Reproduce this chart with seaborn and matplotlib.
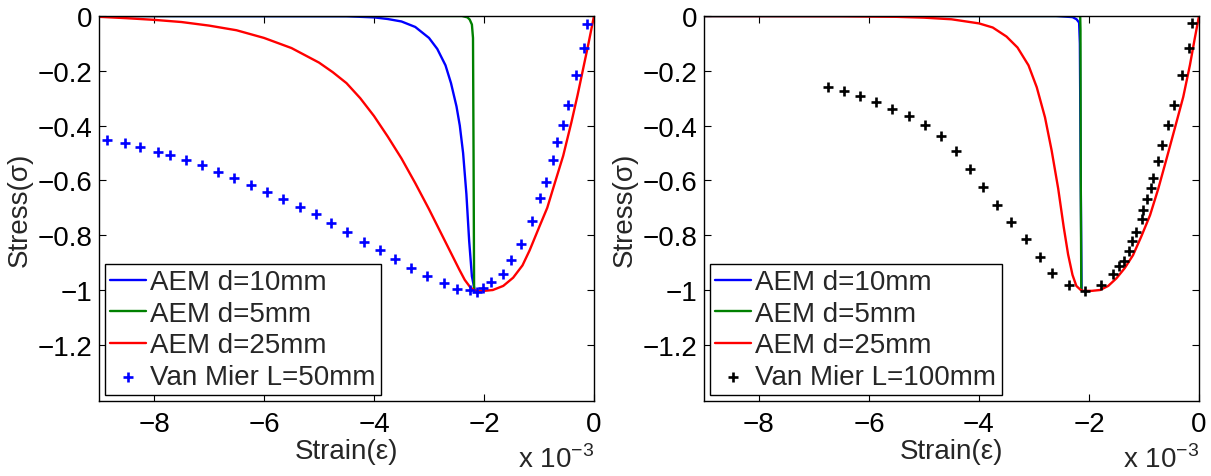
import numpy as np
import pandas as pd
import matplotlib
matplotlib.use("Agg")
import matplotlib.pyplot as plt
import seaborn as sns

# ---------------- data (strain in units of 1e-3) ----------------
# Left panel
L_red_x = [-9.0, -8.5, -8.0, -7.5, -7.0, -6.5, -6.0, -5.5, -5.0, -4.75, -4.5, -4.25, -4.0,
           -3.75, -3.5, -3.25, -3.0, -2.75, -2.6, -2.45, -2.35, -2.25, -2.17,
           -2.0, -1.84, -1.65, -1.47, -1.3, -1.17, -1.0, -0.85, -0.715, -0.56, -0.411,
           -0.3, -0.2, -0.1, 0.0]
L_red_y = [-0.003, -0.008, -0.014, -0.022, -0.035, -0.052, -0.08, -0.117, -0.17, -0.205,
           -0.245, -0.30, -0.365, -0.44, -0.52, -0.61, -0.705, -0.805, -0.865, -0.925,
           -0.963, -0.99, -1.002,
           -1.003, -1.0, -0.985, -0.955, -0.91, -0.855, -0.772, -0.70, -0.611, -0.51,
           -0.388, -0.29, -0.195, -0.10, 0.0]
L_blue_x = [-9.0, -4.5, -4.0, -3.75, -3.5, -3.25, -3.0, -2.85, -2.7, -2.6, -2.5, -2.44,
            -2.38, -2.32, -2.27, -2.22, -2.17]
L_blue_y = [0.0, -0.001, -0.005, -0.011, -0.02, -0.04, -0.08, -0.12, -0.18, -0.245, -0.33,
            -0.40, -0.50, -0.65, -0.82, -0.95, -1.0]
L_green_x = [-9.0, -2.40, -2.30, -2.26, -2.22, -2.20, -2.19, -2.18]
L_green_y = [0.0, 0.0, -0.005, -0.013, -0.031, -0.08, -0.5, -1.0]
L_exp_x = [-8.86, -8.53, -8.25, -7.93, -7.71, -7.42, -7.13, -6.83, -6.55, -6.24, -5.94, -5.65,
           -5.34, -5.05, -4.78, -4.50, -4.19, -3.90, -3.62, -3.32, -3.03, -2.73, -2.49, -2.25,
           -2.13, -2.01, -1.87, -1.65, -1.51, -1.32, -1.13, -0.98, -0.87, -0.75, -0.67, -0.57,
           -0.47, -0.32, -0.19, -0.12]
L_exp_y = [-0.451, -0.464, -0.478, -0.495, -0.508, -0.526, -0.545, -0.568, -0.593, -0.617,
           -0.641, -0.668, -0.697, -0.722, -0.754, -0.788, -0.823, -0.855, -0.886, -0.919,
           -0.950, -0.973, -0.998, -1.001, -1.008, -0.994, -0.972, -0.941, -0.892, -0.833,
           -0.748, -0.665, -0.604, -0.525, -0.461, -0.396, -0.324, -0.216, -0.116, -0.028]

# Right panel
R_red_x = [-9.0, -6.5, -5.5, -5.0, -4.5, -4.0, -3.75, -3.5, -3.3, -3.1, -2.95, -2.8, -2.68,
           -2.56, -2.46, -2.38, -2.3, -2.23, -2.15, -2.11,
           -1.95, -1.80, -1.65, -1.50, -1.35, -1.20, -1.05, -0.89, -0.74, -0.59, -0.44,
           -0.286, -0.164, -0.08, 0.0]
R_red_y = [0.0, -0.001, -0.003, -0.006, -0.012, -0.027, -0.042, -0.075, -0.115, -0.18, -0.26,
           -0.37, -0.49, -0.63, -0.77, -0.87, -0.945, -0.985, -1.0, -1.003,
           -1.003, -1.0, -0.985, -0.957, -0.92, -0.873, -0.805, -0.727, -0.63, -0.521,
           -0.41, -0.295, -0.178, -0.085, 0.0]
R_blue_x = [-9.0, -2.6, -2.3, -2.226, -2.18, -2.166, -2.15, -2.135]
R_blue_y = [0.0, 0.0, -0.004, -0.012, -0.024, -0.1, -0.6, -1.0]
R_green_x = [-9.0, -2.16, -2.155, -2.15, -2.14]
R_green_y = [0.0, 0.0, -0.05, -0.6, -1.0]
R_exp_x = [-6.74, -6.45, -6.16, -5.87, -5.58, -5.28, -4.99, -4.70, -4.42, -4.16, -3.93, -3.68,
           -3.41, -3.14, -2.89, -2.67, -2.37, -2.08, -1.79, -1.56, -1.45, -1.36, -1.28, -1.22,
           -1.15, -1.04, -1.01, -0.94, -0.87, -0.84, -0.74, -0.67, -0.56, -0.46, -0.31, -0.18,
           -0.12]
R_exp_y = [-0.259, -0.274, -0.293, -0.314, -0.338, -0.364, -0.397, -0.437, -0.493, -0.559,
           -0.625, -0.691, -0.753, -0.815, -0.881, -0.938, -0.981, -1.005, -0.983, -0.942,
           -0.914, -0.893, -0.857, -0.821, -0.788, -0.741, -0.707, -0.668, -0.626, -0.590,
           -0.529, -0.469, -0.397, -0.324, -0.215, -0.116, -0.027]

labels_aem = ["AEM d=10mm", "AEM d=5mm", "AEM d=25mm"]
label_exp_left = "Van Mier L=50mm"
label_exp_right = "Van Mier L=100mm"
xticks = [-8, -6, -4, -2, 0]
xticklabels = ["\u22128", "\u22126", "\u22124", "\u22122", "0"]
yticks = [0, -0.2, -0.4, -0.6, -0.8, -1.0, -1.2]
yticklabels = ["0", "\u22120.2", "\u22120.4", "\u22120.6", "\u22120.8", "\u22121", "\u22121.2"]

# ---------------- style ----------------
sns.set_style("white")
plt.rcParams["font.family"] = ["Liberation Sans", "DejaVu Sans"]
plt.rcParams["xtick.direction"] = "in"
plt.rcParams["ytick.direction"] = "in"

FS = 20
BLUE = (0, 0, 1)
GREEN = (0, 0.5, 0)
RED = (1, 0, 0)

fig = plt.figure(figsize=(12.11, 4.77), dpi=100)
W, H = 1211, 477
axL = fig.add_axes([99 / W, 1 - 402 / H, (594 - 99) / W, (402 - 17) / H])
axR = fig.add_axes([704 / W, 1 - 402 / H, (1199 - 704) / W, (402 - 17) / H])


def panel(ax, bx, by, gx, gy, rx, ry, ex, ey, ecolor, elabel):
    sns.lineplot(x=bx, y=by, ax=ax, color=BLUE, lw=1.7, sort=False, estimator=None,
                 label=labels_aem[0])
    sns.lineplot(x=gx, y=gy, ax=ax, color=GREEN, lw=1.7, sort=False, estimator=None,
                 label=labels_aem[1])
    sns.lineplot(x=rx, y=ry, ax=ax, color=RED, lw=1.7, sort=False, estimator=None,
                 label=labels_aem[2])
    sns.scatterplot(x=ex, y=ey, ax=ax, color=ecolor, marker="+", s=45, linewidth=1.9,
                    label=elabel, zorder=5)
    ax.set_xlim(-9, 0)
    ax.set_ylim(-1.405, 0)
    ax.set_xticks(xticks)
    ax.set_xticklabels(xticklabels, fontsize=FS)
    ax.set_yticks(yticks)
    ax.set_yticklabels(yticklabels, fontsize=FS)
    ax.tick_params(axis="both", which="both", direction="in", length=5, width=0.8,
                   top=True, right=True, bottom=True, left=True, colors="black")
    ax.tick_params(axis="x", pad=7)
    ax.tick_params(axis="y", pad=5)
    for s in ax.spines.values():
        s.set_color("black")
        s.set_linewidth(1.0)
        s.set_visible(True)
    ax.set_xlabel("Strain(\u03b5)", fontsize=FS, labelpad=1)
    ax.set_ylabel("Stress(\u03c3)", fontsize=FS, labelpad=3)
    ax.text(1.0, -0.171, "x 10$^{\\mathregular{\u22123}}$", transform=ax.transAxes,
            ha="right", va="baseline", fontsize=FS)
    leg = ax.legend(loc="lower left", fontsize=FS, frameon=True, fancybox=False,
                    edgecolor="black", framealpha=1, borderaxespad=0.2, borderpad=0.2,
                    handlelength=1.3, handletextpad=0.15, labelspacing=0.2,
                    markerscale=1.0)
    leg.get_frame().set_linewidth(1.0)


panel(axL, L_blue_x, L_blue_y, L_green_x, L_green_y, L_red_x, L_red_y,
      L_exp_x, L_exp_y, BLUE, label_exp_left)
panel(axR, R_blue_x, R_blue_y, R_green_x, R_green_y, R_red_x, R_red_y,
      R_exp_x, R_exp_y, "black", label_exp_right)

fig.savefig("out.png", dpi=100, facecolor="white")
